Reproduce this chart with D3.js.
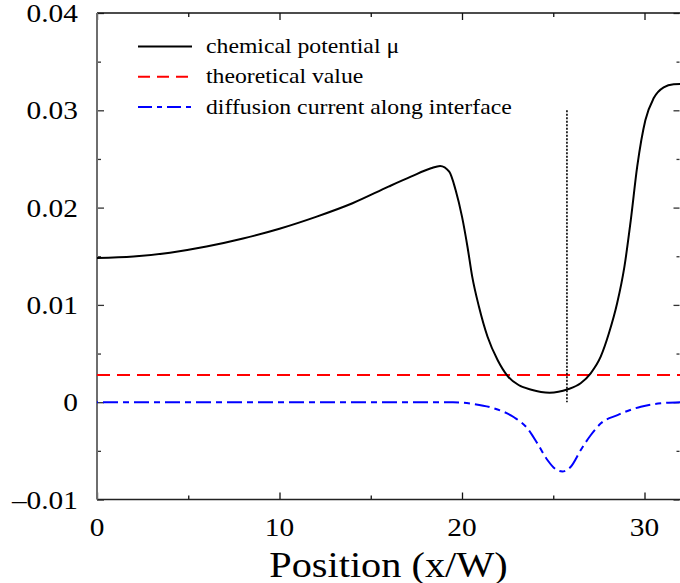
<!DOCTYPE html>
<html>
<head>
<meta charset="utf-8">
<script src="https://cdn.jsdelivr.net/npm/d3@7"></script>
<style>
  body { margin: 0; background: #fff; }
  svg { display: block; }
</style>
</head>
<body>
<svg id="chart" width="680" height="583"></svg>
<script>
// --- data ---
const muX = [0, 2, 4, 6, 8, 10, 12, 14, 16, 17.2, 18.3, 18.8, 19.3, 19.65, 20.0, 20.3, 20.56, 20.93,
  21.4, 21.95, 22.5, 23.1, 23.8, 24.8, 25.8, 26.5, 27.05, 27.6, 28.05, 28.5, 28.9, 29.25, 29.6,
  30.05, 30.5, 31.05, 31.6, 32];
const muY = [0.01482, 0.01497, 0.01537, 0.01600, 0.01683, 0.01783, 0.01905, 0.02045, 0.02218, 0.02318,
  0.02404, 0.02428, 0.02369, 0.02181, 0.01907, 0.01598, 0.0129, 0.00981, 0.00673, 0.00434, 0.00269,
  0.00177, 0.00128, 0.00098, 0.00133, 0.00194, 0.00297, 0.00468, 0.00708, 0.01016, 0.01393, 0.01873,
  0.0242, 0.029, 0.03123, 0.03236, 0.03267, 0.0327];

const jX = [0, 19.5, 20.65, 21.75, 22.85, 23.58, 24.13, 24.68, 25.14, 25.5, 25.96, 26.51, 27.06,
  27.61, 28.52, 29.8, 30.9, 32];
const jY = [0, 0, -0.00019, -0.00063, -0.00155, -0.00268, -0.00423, -0.00594, -0.0069, -0.00712,
  -0.00663, -0.00491, -0.00337, -0.00217, -0.00132, -0.00046, -0.00011, 0];

const theoValue = 0.0028;
const markerX = 25.75, markerTop = 0.03;

const xMajor = [0, 10, 20, 30];
const xMinor = [5, 15, 25];
const yMajor = [-0.01, 0, 0.01, 0.02, 0.03, 0.04];
const yMinor = [-0.005, 0.005, 0.015, 0.025, 0.035];
const yLabels = ["\u20130.01", "0", "0.01", "0.02", "0.03", "0.04"];

const legendLabels = ["chemical potential \u03bc", "theoretical value", "diffusion current along interface"];

// --- layout ---
const L = 97, R = 681, T = 13, B = 499.5;
const sx = 1.13; // glyphs in the figure are stretched horizontally
const FONT = "'Liberation Serif', 'Times New Roman', Times, serif";

const svg = d3.select("#chart");
const x = d3.scaleLinear().domain([0, 32]).range([L, R]);
const y = d3.scaleLinear().domain([-0.01, 0.04]).range([B, T]);

svg.append("clipPath").attr("id", "clip")
  .append("rect").attr("x", L).attr("y", T).attr("width", R - L).attr("height", B - T);

// ticks (inward), major + minor
function ticks(g, axisFn, scale, vals, size, color) {
  g.call(axisFn(scale).tickValues(vals).tickSize(-size).tickFormat("").tickSizeOuter(0))
    .call(s => s.select(".domain").remove())
    .call(s => s.selectAll(".tick line").attr("stroke", color).attr("stroke-width", 1.3));
}
const gb = svg.append("g").attr("transform", `translate(0,${B})`);
ticks(gb.append("g"), d3.axisBottom, x, xMajor, 7, "#111");
ticks(gb.append("g"), d3.axisBottom, x, xMinor, 4, "#111");
const gt = svg.append("g").attr("transform", `translate(0,${T})`);
ticks(gt.append("g"), d3.axisTop, x, xMajor, 7, "#111");
ticks(gt.append("g"), d3.axisTop, x, xMinor, 4, "#111");
const gl = svg.append("g").attr("transform", `translate(${L},0)`);
ticks(gl.append("g"), d3.axisLeft, y, yMajor, 7, "#333");
ticks(gl.append("g"), d3.axisLeft, y, yMinor, 4, "#333");
const gr = svg.append("g").attr("transform", `translate(${R - 1.5},0)`);
ticks(gr.append("g"), d3.axisRight, y, yMajor, 6, "#333");
ticks(gr.append("g"), d3.axisRight, y, yMinor, 3, "#333");

// frame lines
svg.append("line").attr("x1", L).attr("x2", R).attr("y1", B).attr("y2", B)
  .attr("stroke", "#222").attr("stroke-width", 1.6);
svg.append("line").attr("x1", L).attr("x2", R).attr("y1", T).attr("y2", T)
  .attr("stroke", "#111").attr("stroke-width", 1.6);
svg.append("line").attr("x1", L).attr("x2", L).attr("y1", T).attr("y2", B)
  .attr("stroke", "#6e6e6e").attr("stroke-width", 2);

// tick labels
svg.selectAll("text.xl").data(xMajor).enter().append("text")
  .attr("class", "xl")
  .attr("transform", d => `translate(${x(d)},535.5) scale(${sx},1)`)
  .attr("text-anchor", "middle")
  .style("font-family", FONT)
  .style("font-size", "26px")
  .text(d => d);

svg.selectAll("text.yl").data(yMajor).enter().append("text")
  .attr("class", "yl")
  .attr("transform", d => `translate(78,${y(d) + 9}) scale(${sx},1)`)
  .attr("text-anchor", "end")
  .style("font-family", FONT)
  .style("font-size", "26px")
  .text((d, i) => yLabels[i]);

// axis title
svg.append("text")
  .attr("transform", `translate(${(L + 680) / 2},576.5) scale(1.12,1)`)
  .attr("text-anchor", "middle")
  .style("font-family", FONT)
  .style("font-size", "36px")
  .text("Position (x/W)");

// --- series ---
const plot = svg.append("g").attr("clip-path", "url(#clip)");

plot.append("line")
  .attr("x1", x(0)).attr("x2", x(32)).attr("y1", y(theoValue)).attr("y2", y(theoValue))
  .attr("stroke", "#ff0000").attr("stroke-width", 2).attr("stroke-dasharray", "13,7");

const jLine = d3.line().x(d => x(d[0])).y(d => y(d[1])).curve(d3.curveMonotoneX);
plot.append("path")
  .datum(jX.map((v, i) => [v, jY[i]]))
  .attr("d", jLine)
  .attr("fill", "none").attr("stroke", "#0000ff").attr("stroke-width", 2)
  .attr("stroke-dasharray", "15,5,6,5").attr("stroke-dashoffset", -6);

plot.append("line")
  .attr("x1", x(markerX)).attr("x2", x(markerX)).attr("y1", y(markerTop)).attr("y2", y(0))
  .attr("stroke", "#000").attr("stroke-width", 1.6).attr("stroke-dasharray", "2,1.5");

const muLine = d3.line().x(d => x(d[0])).y(d => y(d[1])).curve(d3.curveMonotoneX);
plot.append("path")
  .datum(muX.map((v, i) => [v, muY[i]]))
  .attr("d", muLine)
  .attr("fill", "none").attr("stroke", "#000").attr("stroke-width", 2)
  .attr("stroke-linejoin", "round");

// --- legend ---
const legStyles = [
  { color: "#000", dash: null },
  { color: "#ff0000", dash: "12,7" },
  { color: "#0000ff", dash: "14,5,5,5" }
];
const leg = svg.append("g");
legendLabels.forEach((lab, i) => {
  const yy = 46.5 + i * 30.3;
  leg.append("line")
    .attr("x1", 138).attr("x2", 192).attr("y1", yy).attr("y2", yy)
    .attr("stroke", legStyles[i].color).attr("stroke-width", 2)
    .attr("stroke-dasharray", legStyles[i].dash);
  leg.append("text")
    .attr("transform", `translate(206,${yy + 6.5}) scale(${sx},1)`)
    .style("font-family", FONT)
    .style("font-size", "21px")
    .text(lab);
});
</script>
</body>
</html>
